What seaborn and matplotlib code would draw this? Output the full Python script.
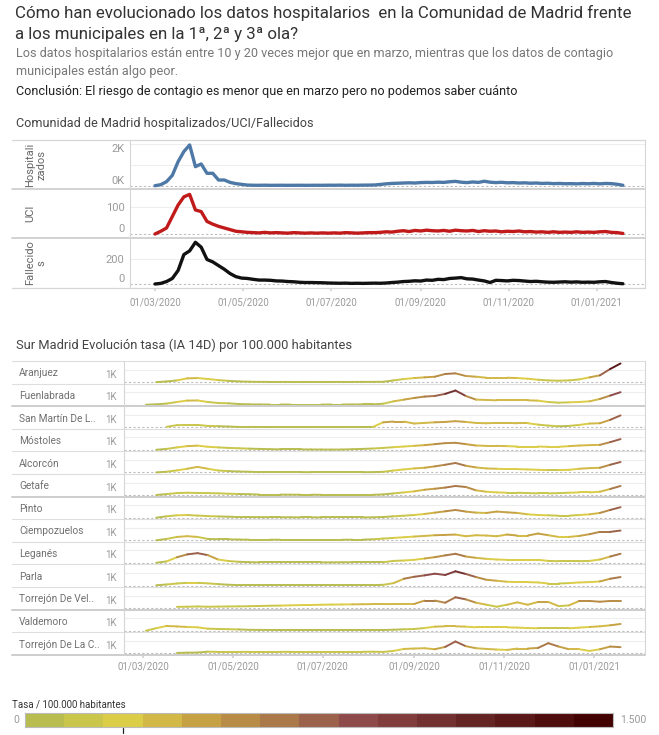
import numpy as np
import pandas as pd
import matplotlib
matplotlib.use("Agg")
import matplotlib.pyplot as plt
import matplotlib.dates as mdates
from matplotlib.lines import Line2D
from matplotlib.collections import LineCollection
from matplotlib.colors import ListedColormap, BoundaryNorm
import seaborn as sns

sns.set_theme(style="white")
plt.rcParams["font.family"] = ["Roboto", "DejaVu Sans"]

nan = np.nan

# ---------------- DATA ----------------
title_1 = "Cómo han evolucionado los datos hospitalarios  en la Comunidad de Madrid frente"
title_2 = "a los municipales en la 1ª, 2ª y 3ª ola?"
subtitle_1 = "Los datos hospitalarios están entre 10 y 20 veces mejor que en marzo, mientras que los datos de contagio"
subtitle_2 = "municipales están algo peor."
conclusion = "Conclusión: El riesgo de contagio es menor que en marzo pero no podemos saber cuánto"
top_title = "Comunidad de Madrid hospitalizados/UCI/Fallecidos"
bottom_title = "Sur Madrid Evolución tasa (IA 14D) por 100.000 habitantes"
legend_title = "Tasa / 100.000 habitantes"

# daily series sampled every 4 days from 01/03/2020
top_dates = pd.date_range("2020-03-01", periods=82, freq="4D")
hospitalizados = [0, 50, 195, 500, 1160, 1650, 1970, 920, 1050, 600, 600, 275, 275, 160, 100, 65, 30, 22, 20, 25,
                  18, 20, 22, 18, 20, 22, 18, 20, 22, 20,
                  25, 22, 28, 20, 25, 22, 28, 30,
                  35, 60, 90, 110, 120, 130, 140, 130, 150, 160, 155, 170, 160, 190, 210, 170, 150, 180, 160, 215,
                  170, 150, 165, 140, 150, 130, 140, 120, 130, 110, 120, 100, 110, 95, 100, 90, 105, 95, 110, 90,
                  110, 100, 70, 20]
uci = [0, 10, 22, 64, 106, 136, 145, 88, 82, 46, 36, 28, 22, 16, 10, 8, 6,
       5, 4, 6, 4, 5, 4, 3, 5, 4, 3, 4, 3, 4,
       3, 4, 3, 5, 4, 3, 4, 5,
       5, 6, 8, 7, 10, 12, 9, 13, 11, 14, 12, 11, 13, 10, 14, 12, 11, 13, 9, 12,
       10, 11, 8, 10, 9, 11, 8, 9, 7, 8, 6, 8, 6, 7, 6, 8, 6, 7, 6, 8, 9, 6, 5, 2]
fallecidos = [0, 5, 20, 45, 110, 240, 270, 340, 300, 200, 180, 150, 120, 85, 60, 48, 45, 38, 32, 32,
              30, 25, 24, 20, 18, 14, 12, 12, 11, 10,
              8, 7, 6, 7, 5, 6, 5, 6, 7, 6, 8, 12, 15, 20, 22, 26, 24, 32, 30, 38,
              36, 45, 48, 52, 42, 40, 32, 25, 12, 30, 28, 25, 30, 28, 24, 20, 22, 18, 15, 14,
              16, 18, 15, 17, 14, 15, 14, 18, 20, 12, 6, 2]
top_series = ["Hospitali\nzados", "UCI", "Fallecido\ns"]
top_colors = ["#4e79a7", "#c01a1a", "#111111"]

# weekly series from 25/02/2020
week_dates = pd.date_range("2020-02-25", periods=48, freq="7D")
municipios = ["Aranjuez", "Fuenlabrada", "San Martín De L..", "Móstoles", "Alcorcón", "Getafe", "Pinto",
              "Ciempozuelos", "Leganés", "Parla", "Torrejón De Vel..", "Valdemoro", "Torrejón De La C.."]
aranjuez = [nan, nan, 0, 50, 135, 300, 325, 250, 160, 100, 55, 30, 20, 15, 15, 12, 12, 10, 10, 12,
            15, 15, 18, 20, 25, 135, 245, 325, 380, 430, 650, 700, 490, 430, 350, 350, 350, 325, 270, 190,
            135, 110, 135, 215, 380, 540, 1050, 1490]
fuenlabrada = [nan, 0, 30, 90, 215, 330, 340, 215, 135, 110, 55, 30, 20, 15, 15, 12, 12, 12, 12, 15,
               15, 20, 25, 25, 80, 270, 405, 540, 650, 700, 865, 1135, 700, 405, 380, 350, 350, 350, 350, 325,
               215, 160, 190, 215, 270, 460, 730, 1000]
san_martin = [nan, nan, nan, 40, 170, 190, 190, 110, 90, 60, 30, 30, 25, 25, 25, 25, 25, 25, 25, 25,
              25, 25, 25, 30, 400, 460, 460, 300, 350, 400, 430, 490, 430, 350, 325, 350, 350, 325, 325, 215,
              135, 80, 110, 190, 300, 325, 600, 950]
mostoles = [nan, nan, 10, 80, 200, 300, 340, 250, 200, 160, 130, 100, 80, 60, 40, 40, 40, 35, 30, 25,
            30, 55, 80, 110, 160, 215, 270, 325, 380, 460, 540, 570, 460, 350, 325, 325, 300, 270, 270, 270,
            245, 245, 300, 350, 380, 405, 620, 865]
alcorcon = [nan, nan, 10, 60, 170, 300, 450, 300, 160, 110, 80, 60, 30, 30, 30, 30, 30, 25, 25, 25,
            25, 25, 25, 30, 55, 160, 245, 325, 380, 490, 620, 760, 540, 405, 325, 300, 270, 270, 245, 215,
            190, 190, 215, 300, 350, 380, 620, 840]
getafe = [nan, nan, 10, 80, 160, 190, 170, 160, 140, 110, 90, 70, 40, 40, 40, 35, 30, 30, 25, 25,
          25, 25, 25, 25, 55, 135, 215, 300, 430, 510, 600, 730, 650, 380, 270, 215, 190, 190, 160, 135,
          135, 160, 190, 215, 215, 270, 490, 730]
pinto = [nan, nan, 0, 110, 190, 215, 170, 130, 100, 80, 50, 50, 45, 40, 40, 35, 30, 30, 25, 25,
         25, 25, 25, 30, 55, 110, 160, 215, 300, 405, 510, 620, 490, 405, 380, 490, 430, 380, 270, 215,
         190, 160, 160, 215, 270, 380, 620, 840]
ciempozuelos = [nan, nan, 0, 110, 270, 330, 270, 110, 80, 80, 60, 50, 50, 50, 45, 45, 45, 45, 45, 45,
                45, 50, 50, 80, 135, 190, 245, 300, 350, 405, 430, 460, 325, 405, 380, 325, 460, 380, 380, 540,
                405, 270, 270, 350, 490, 675, 675, 780]
leganes = [nan, nan, 10, 120, 450, 680, 780, 620, 270, 150, 90, 60, 40, 40, 40, 40, 40, 40, 40, 45,
           50, 55, 55, 55, 55, 160, 190, 245, 350, 460, 600, 730, 510, 405, 325, 270, 245, 245, 245, 245,
           160, 135, 135, 135, 160, 270, 510, 730]
parla = [nan, nan, 20, 80, 160, 215, 215, 170, 110, 60, 30, 30, 30, 30, 30, 30, 30, 30, 30, 30,
         30, 30, 30, 30, 55, 190, 540, 700, 810, 945, 840, 1135, 920, 675, 460, 380, 300, 270, 270, 245,
         160, 160, 190, 245, 270, 325, 540, 675]
torrejon_vel = [nan, nan, nan, nan, 100, 110, 130, 110, 120, 130, 140, 150, 170, 190, 200, 220, 240, 250, 270, 280,
                290, 300, 310, 320, 320, 325, 330, 330, 600, 600, 430, 865, 700, 430, 270, 110, 270, 460, 270, 490,
                490, 160, 215, 570, 570, 510, 570, 570]
valdemoro = [nan, 0, 200, 380, 340, 300, 270, 160, 140, 120, 100, 70, 65, 60, 60, 60, 55, 55, 55, 55,
             55, 55, 55, 55, 55, 80, 110, 135, 215, 325, 350, 350, 325, 270, 270, 270, 270, 245, 215, 190,
             190, 190, 190, 245, 300, 350, 430, 540]
torrejon_cal = [nan, nan, nan, nan, 30, 50, 60, 130, 110, 110, 110, 115, 115, 115, 115, 120, 120, 120, 120, 120,
                120, 120, 120, 125, 110, 190, 350, 380, 405, 325, 510, 945, 570, 405, 350, 300, 270, 380, 380, 430,
                810, 540, 325, 325, 190, 325, 540, 490]
muni_values = [aranjuez, fuenlabrada, san_martin, mostoles, alcorcon, getafe, pinto,
               ciempozuelos, leganes, parla, torrejon_vel, valdemoro, torrejon_cal]

tasa_colors = ["#b9bd50", "#c9c64b", "#dccd48", "#d2b846", "#c6a144", "#b88c46", "#aa7849", "#9c614b",
               "#8e4a4a", "#813c3c", "#723030", "#652424", "#5a1818", "#4e0c0c", "#420000"]
tasa_max = 1500
tasa_marker = 250

# ---------------- LAYOUT ----------------
W, H = 659, 735
fig = plt.figure(figsize=(W / 100, H / 100), dpi=100)


def rect(x0, y0, x1, y1):
    return [x0 / W, 1 - y1 / H, (x1 - x0) / W, (y1 - y0) / H]


def hline(y, x0, x1, color="#dcdcdc", lw=0.8):
    fig.add_artist(Line2D([x0 / W, x1 / W], [1 - y / H, 1 - y / H], transform=fig.transFigure,
                          color=color, lw=lw))


def vline(x, y0, y1, color="#dcdcdc", lw=0.8):
    fig.add_artist(Line2D([x / W, x / W], [1 - y0 / H, 1 - y1 / H], transform=fig.transFigure,
                          color=color, lw=lw))


def ftext(x, y, s, **kw):
    fig.text(x / W, 1 - y / H, s, **kw)


# titles
ftext(15, 13, title_1, fontsize=12.2, color="#333333", va="center")
ftext(15, 34, title_2, fontsize=12.2, color="#333333", va="center")
ftext(16, 54, subtitle_1, fontsize=9.1, color="#777777", va="center")
ftext(16, 72, subtitle_2, fontsize=9.1, color="#777777", va="center")
ftext(16, 91, conclusion, fontsize=9.1, color="#222222", va="center")
ftext(16, 123, top_title, fontsize=9.1, color="#444444", va="center")
ftext(16, 345, bottom_title, fontsize=9.3, color="#444444", va="center")

d0 = pd.Timestamp("2020-03-01")
date_fmt = mdates.DateFormatter("%d/%m/%Y")
loc = mdates.MonthLocator(bymonth=[1, 3, 5, 7, 9, 11])

# ---------------- TOP CHART ----------------
top_rows = [(140, 189), (189, 238), (238, 288)]
top_vals = [hospitalizados, uci, fallecidos]
top_ylim = [(-159, 2208), (-14.7, 164.8), (-32.7, 375)]
top_ticks = [([0, 1000, 2000], ["0K", "", "2K"]), ([0, 100], ["0", "100"]), ([0, 200], ["0", "200"])]
top_xlim = (d0 - pd.Timedelta(days=17.3), d0 + pd.Timedelta(days=339.3))
top_df = pd.DataFrame({"fecha": top_dates})

for i, ((y0, y1), vals, col) in enumerate(zip(top_rows, top_vals, top_colors)):
    ax = fig.add_axes(rect(130, y0, 645, y1))
    top_df["valor"] = vals
    ax.axhline(0, color="#bdbdbd", lw=0.8, ls=(0, (2, 2)), zorder=1)
    sns.lineplot(data=top_df, x="fecha", y="valor", ax=ax, color=col, linewidth=2.4, zorder=3)
    ax.set_xlim(top_xlim)
    ax.set_ylim(top_ylim[i])
    ticks, labels = top_ticks[i]
    ax.set_yticks(ticks)
    ax.set_yticklabels(labels)
    for t in ticks[1:]:
        ax.axhline(t, color="#eeeeee", lw=0.8, zorder=0)
    ax.tick_params(axis="y", length=0, pad=4, labelsize=8, labelcolor="#9a9a9a")
    tl = ax.get_yticklabels()
    tl[0].set_va("bottom")
    if i == 0:
        tl[-1].set_va("top")
    ax.set_xlabel("")
    ax.set_ylabel("")
    for s in ax.spines.values():
        s.set_visible(False)
    ax.xaxis.set_major_locator(loc)
    ax.xaxis.set_major_formatter(date_fmt)
    if i == 2:
        ax.tick_params(axis="x", length=2.5, color="#d0d0d0", bottom=True, labelsize=7,
                       labelcolor="#9a9a9a", pad=4)
    else:
        ax.tick_params(axis="x", bottom=False, labelbottom=False)
    ax.patch.set_alpha(0)
    ftext(25, (y0 + y1) / 2, top_series[i], rotation=90, ha="left", va="center",
          multialignment="center", fontsize=8, color="#666666")

for y in [140, 288]:
    hline(y, 12, 645, color="#d6d6d6", lw=0.9)
for y in [189, 238]:
    hline(y, 12, 645, color="#cfcfcf", lw=1.3)
vline(130, 140, 288, color="#d6d6d6")
vline(645, 140, 288, color="#d6d6d6")

# ---------------- BOTTOM CHART ----------------
cmap = ListedColormap(tasa_colors)
norm = BoundaryNorm(np.linspace(0, tasa_max, len(tasa_colors) + 1), cmap.N)
B_TOP, B_ROW = 361, 22.6
bot_xlim = (d0 - pd.Timedelta(days=12.9), d0 + pd.Timedelta(days=340.6))
xnum = mdates.date2num(week_dates)
n = len(municipios)
thick_after = {1, 5, 10, 12}

for i, (name, vals) in enumerate(zip(municipios, muni_values)):
    top = B_TOP + i * B_ROW
    ax = fig.add_axes(rect(124, top, 645, top + B_ROW))
    v = np.array(vals, dtype=float)
    m = ~np.isnan(v)
    pts = np.column_stack([xnum[m], v[m]])
    segs = np.stack([pts[:-1], pts[1:]], axis=1)
    cols = cmap(norm((pts[:-1, 1] + pts[1:, 1]) / 2))
    ax.axhline(0, color="#bdbdbd", lw=0.8, ls=(0, (2, 2)), zorder=1)
    ax.axhline(1000, color="#eeeeee", lw=0.8, zorder=0)
    lc = LineCollection(segs, colors=cols, linewidths=1.4, capstyle="round", joinstyle="round", zorder=3)
    ax.add_collection(lc)
    ax.set_xlim(bot_xlim)
    ax.set_ylim(-120, 1688)
    ax.set_yticks([1000])
    ax.set_yticklabels(["1K"])
    ax.tick_params(axis="y", length=0, pad=5.5, labelsize=7, labelcolor="#9a9a9a")
    for t in ax.get_yticklabels():
        t.set_va("top")
    for s in ax.spines.values():
        s.set_visible(False)
    ax.xaxis.set_major_locator(loc)
    ax.xaxis.set_major_formatter(date_fmt)
    if i == n - 1:
        ax.tick_params(axis="x", length=2.5, color="#d0d0d0", bottom=True, labelsize=7,
                       labelcolor="#9a9a9a", pad=2.5)
    else:
        ax.tick_params(axis="x", bottom=False, labelbottom=False)
    ax.patch.set_alpha(0)
    ftext(19, top + B_ROW / 2 + 1, name, ha="left", va="center", fontsize=7.3, color="#707070")
    yb = top + B_ROW
    if i in thick_after:
        hline(yb, 12, 645, color="#cdcdcd", lw=1.4)
    else:
        hline(yb, 12, 645, color="#dedede", lw=0.8)

hline(B_TOP, 12, 645, color="#dedede", lw=0.8)
vline(124, B_TOP, B_TOP + n * B_ROW, color="#d6d6d6")
vline(645, B_TOP, B_TOP + n * B_ROW, color="#d6d6d6")

# ---------------- LEGEND ----------------
ftext(12, 705, legend_title, fontsize=7, color="#333333", va="center")
cax = fig.add_axes(rect(25, 713, 613, 727))
bounds = np.linspace(0, tasa_max, len(tasa_colors) + 1)
cax.pcolormesh(bounds, [0, 1], np.array([(bounds[:-1] + bounds[1:]) / 2]), cmap=cmap, norm=norm)
cax.set_xlim(0, tasa_max)
cax.set_ylim(0, 1)
cax.set_xticks([])
cax.set_yticks([])
for s in cax.spines.values():
    s.set_color("#bbbbbb")
    s.set_linewidth(0.8)
cax.plot([tasa_marker, tasa_marker], [-0.05, -0.45], color="#222222", lw=0.9, clip_on=False)
ftext(19, 720, "0", fontsize=7.5, color="#999999", ha="right", va="center")
ftext(620, 720, "1.500", fontsize=7.5, color="#999999", ha="left", va="center")

fig.savefig("out.png", dpi=100)
